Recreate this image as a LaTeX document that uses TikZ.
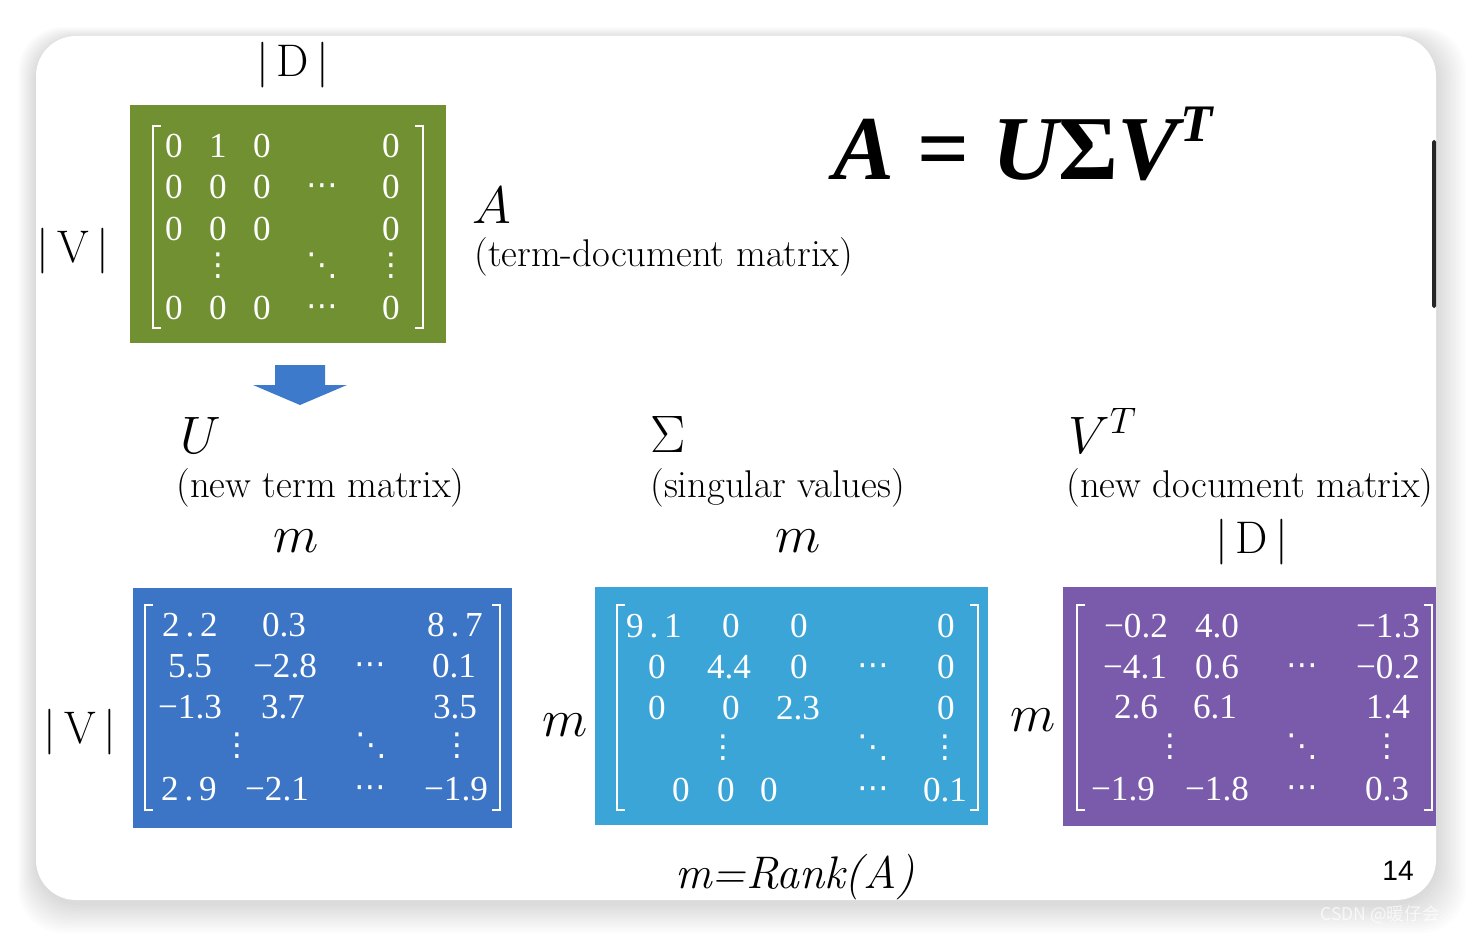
\RequirePackage{fix-cm}
\documentclass[tikz,border=0pt]{standalone}
\usepackage{fontspec}
\newfontfamily\numfont{Liberation Serif}
\newfontfamily\dotfont{DejaVu Sans}
\newfontfamily\pagefont{Liberation Sans}
\newfontfamily\cjkfont{Noto Sans CJK SC}
\definecolor{termgreen}{RGB}{112,144,49}
\definecolor{termblue}{RGB}{60,116,198}
\definecolor{sigmacyan}{RGB}{59,165,215}
\definecolor{docpurple}{RGB}{122,90,170}
\definecolor{arrowblue}{RGB}{62,122,204}

\begin{document}
\begin{tikzpicture}[x=0.02cm, y=-0.02cm,
    % Node styles
    matbox/.style={rectangle, inner sep=0pt, draw=none},
    bracket/.style={draw=white, line width=1.1pt},
    entry/.style={inner sep=0pt, text=white, text height=13.6pt, text depth=0pt,
        font=\numfont\fontsize{20}{24}\selectfont},
    dotsym/.style={inner sep=0pt, text=white, font=\dotfont\fontsize{18}{20}\selectfont},
    lbl/.style={inner sep=0pt, anchor=base west, font=\fontsize{22}{26}\selectfont},
    sym/.style={inner sep=0pt, anchor=base west, font=\fontsize{30}{36}\selectfont},
    dimlbl/.style={inner sep=0pt, anchor=base, font=\fontsize{26}{30}\selectfont},
    mlbl/.style={inner sep=0pt, anchor=base, font=\fontsize{30}{36}\selectfont}
]

% --- Page and slide ---
\useasboundingbox (0,0) rectangle (1472,936);
\fill[white] (0,0) rectangle (1472,936);
\foreach \i in {1,...,12}
    \fill[black, opacity=0.011, rounded corners=0.9cm]
        (36-1.5*\i, 36-1*\i+3) rectangle (1436+2.5*\i, 900+2.5*\i+3);
\fill[white, rounded corners=0.8cm] (36,36) rectangle (1436,900);
\fill[black!85, rounded corners=1pt] (1432,140) rectangle (1436,308);

% --- Matrix boxes ---
\node[matbox, fill=termgreen, minimum width=6.32cm, minimum height=4.76cm] (boxA) at (288,224) {};
\node[matbox, fill=termblue, minimum width=7.58cm, minimum height=4.8cm] (boxU) at (322.5,708) {};
\node[matbox, fill=sigmacyan, minimum width=7.86cm, minimum height=4.76cm] (boxS) at (791.5,706) {};
\node[matbox, fill=docpurple, minimum width=7.46cm, minimum height=4.78cm] (boxV) at (1249.5,706.5) {};

% --- Brackets ---
\draw[bracket] (161,126) -- (153,126) -- (153,328) -- (161,328);
\draw[bracket] (415,126) -- (423,126) -- (423,328) -- (415,328);
\draw[bracket] (153,605) -- (145,605) -- (145,810) -- (153,810);
\draw[bracket] (492,605) -- (500,605) -- (500,810) -- (492,810);
\draw[bracket] (625,605) -- (617,605) -- (617,810) -- (625,810);
\draw[bracket] (970,605) -- (978,605) -- (978,810) -- (970,810);
\draw[bracket] (1085,605) -- (1077,605) -- (1077,810) -- (1085,810);
\draw[bracket] (1424,605) -- (1432,605) -- (1432,810) -- (1424,810);

% --- Entries of A ---
\foreach \x/\y/\v [count=\k] in {174/146/0, 218/146/1, 262/146/0, 391/146/0,
        174/187/0, 218/187/0, 262/187/0, 391/187/0,
        174/229/0, 218/229/0, 262/229/0, 391/229/0,
        174/308/0, 218/308/0, 262/308/0, 391/308/0}
    \node[entry] (a\k) at (\x,\y) {\v};

% --- Entries of U ---
\foreach \x/\y/\v [count=\k] in {190/625/2\,.\,2, 284/625/0.3, 455/625/8\,.\,7,
        190/666/5.5, 285/666/−2.8, 454/666/0.1,
        190/707/−1.3, 283/707/3.7, 455/707/3.5,
        189/789/2\,.\,9, 277/789/−2.1, 456/789/−1.9}
    \node[entry] (u\k) at (\x,\y) {\v};

% --- Entries of Sigma ---
\foreach \x/\y/\v [count=\k] in {654/626/9\,.\,1, 731/626/0, 799/626/0, 946/626/0,
        657/667/0, 729/667/4.4, 799/667/0, 946/667/0,
        657/708/0, 731/708/0, 798/708/2.3, 946/708/0,
        681/790/0, 726/790/0, 769/790/0, 945/790/0.1}
    \node[entry] (s\k) at (\x,\y) {\v};

% --- Entries of V^T ---
\foreach \x/\y/\v [count=\k] in {1136/626/−0.2, 1217/626/4.0, 1388/626/−1.3,
        1135/667/−4.1, 1217/667/0.6, 1388/667/−0.2,
        1136/707/2.6, 1215/707/6.1, 1388/707/1.4,
        1123/789/−1.9, 1217/789/−1.8, 1387/789/0.3}
    \node[entry] (v\k) at (\x,\y) {\v};

% --- Dots ---
\foreach \x/\y/\v [count=\k] in {322/190/⋯, 322/311/⋯, 218/266/⋮, 322/266/⋱, 391/266/⋮,
        370/669/⋯, 370/792/⋯, 237/746/⋮, 371/746/⋱, 457/746/⋮,
        873/670/⋯, 873/793/⋯, 723/748/⋮, 873/748/⋱, 945/748/⋮,
        1302/670/⋯, 1302/792/⋯, 1170/747/⋮, 1302/747/⋱, 1387/747/⋮}
    \node[dotsym] (dot\k) at (\x,\y) {\v};

% --- Labels ---
\node[dimlbl] (dA) at (293,77) {|\,D\,|};
\node[dimlbl] (vA) at (73,262) {|\,V\,|};
\node[sym] (symA) at (472,224) {$A$};
\node[lbl] (nameA) at (474,266) {(term-document matrix)};
\node[inner sep=0pt, anchor=base west, font=\numfont\fontsize{52}{60}\selectfont\bfseries\itshape]
    (svd) at (833,180) {A {\upshape =} U{\upshape Σ}V\kern0.02em\raisebox{22pt}{\fontsize{30}{30}\selectfont T}};

\fill[arrowblue] (275,365) -- (325,365) -- (325,385) -- (347,385) -- (300,405)
    -- (253,385) -- (275,385) -- cycle;

\node[sym] (symU) at (180,453) {$U$};
\node[lbl] (nameU) at (176,497) {(new term matrix)};
\node[mlbl] (mU) at (296,552) {$m$};
\node[sym] (symS) at (650,452) {$\Sigma$};
\node[lbl] (nameS) at (650,497) {(singular values)};
\node[mlbl] (mS) at (798,552) {$m$};
\node[sym] (symV) at (1068,453) {$V^T$};
\node[lbl] (nameV) at (1066,497) {(new document matrix)};
\node[dimlbl] (dV) at (1252,553) {|\,D\,|};
\node[dimlbl] (vU) at (80,743) {|\,V\,|};
\node[mlbl] (mUS) at (565,736) {$m$};
\node[mlbl] (mSV) at (1033,731) {$m$};
\node[inner sep=0pt, anchor=base, font=\fontsize{26}{30}\selectfont] (rank) at (795,888) {\textit{m=Rank(A)}};

\node[inner sep=0pt, anchor=base, font=\pagefont\fontsize{16}{16}\selectfont] (pgnum) at (1398,880) {14};
\node[inner sep=0pt, anchor=base west, text=white, opacity=0.7, font=\cjkfont\fontsize{10}{10}\selectfont]
    (mark) at (1320,920) {CSDN @暖仔会};

\end{tikzpicture}
\end{document}
